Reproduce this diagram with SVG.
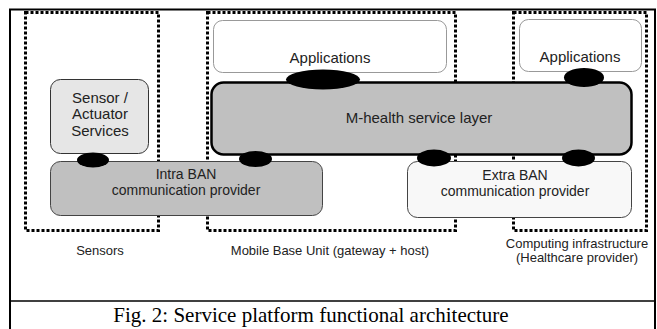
<svg xmlns="http://www.w3.org/2000/svg" width="657" height="329" viewBox="0 0 657 329">
<style>
.dot{fill:none;stroke:#000;stroke-width:3;stroke-dasharray:3,2}
.t{font-family:"Liberation Sans",Arial,sans-serif;fill:#222;text-anchor:middle}
.conn{fill:#000}
</style>
<rect x="0" y="0" width="657" height="329" fill="#fff"/>
<rect x="10" y="9.5" width="645" height="325" fill="none" stroke="#000" stroke-width="2"/>
<line x1="10" y1="301" x2="655" y2="301" stroke="#000" stroke-width="1.5"/>
<g id="groups">
<rect class="dot" x="25.5" y="12.5" width="133" height="218"/>
<rect class="dot" x="207.5" y="12.5" width="248" height="218"/>
<rect class="dot" x="513.5" y="12.5" width="133" height="218"/>
</g>
<g id="apps-mid"><rect x="213.5" y="20.5" width="233" height="52" rx="9" fill="#fff" stroke="#999"/><text class="t" x="330" y="63" font-size="15">Applications</text></g>
<g id="apps-right"><rect x="519.5" y="19.5" width="122" height="52" rx="9" fill="#fff" stroke="#999"/><text class="t" x="580" y="62" font-size="15">Applications</text></g>
<g id="sensor-services"><rect x="50.5" y="79.5" width="98" height="74" rx="10" fill="#e6e6e6" stroke="#333"/><text class="t" x="100" y="103" font-size="15">Sensor /</text><text class="t" x="100" y="119" font-size="15">Actuator</text><text class="t" x="100" y="136" font-size="15">Services</text></g>
<g id="mhealth"><rect x="211.5" y="82.5" width="420" height="72" rx="12" fill="#c0c0c0" stroke="#000" stroke-width="2.5"/><text class="t" x="419" y="123" font-size="15">M-health service layer</text></g>
<g id="intra-ban"><rect x="50.5" y="161.5" width="272" height="54" rx="10" fill="#c0c0c0" stroke="#444"/><text class="t" x="186" y="179" font-size="14">Intra BAN</text><text class="t" x="186" y="195" font-size="14">communication provider</text></g>
<g id="extra-ban"><rect x="407.5" y="161.5" width="224" height="56" rx="10" fill="#f8f8f8" stroke="#444"/><text class="t" x="515" y="180" font-size="14">Extra BAN</text><text class="t" x="515" y="196" font-size="14">communication provider</text></g>
<g id="connectors">
<ellipse class="conn" cx="93" cy="160" rx="16" ry="7.5"/>
<ellipse class="conn" cx="255.5" cy="159" rx="16.5" ry="8"/>
<ellipse class="conn" cx="434" cy="158" rx="17" ry="8.5"/>
<ellipse class="conn" cx="578.5" cy="158" rx="16.5" ry="8.5"/>
<ellipse class="conn" cx="323" cy="79.5" rx="37" ry="10"/>
<ellipse class="conn" cx="584" cy="77.5" rx="20" ry="9.5"/>
</g>
<g id="labels">
<text class="t" x="100" y="255" font-size="13">Sensors</text>
<text class="t" x="330" y="255" font-size="13">Mobile Base Unit (gateway + host)</text>
<text class="t" x="577" y="248" font-size="13">Computing infrastructure</text>
<text class="t" x="577" y="262" font-size="13">(Healthcare provider)</text>
</g>
<text x="311" y="322" font-family="'Liberation Serif','Times New Roman',serif" font-size="21" text-anchor="middle" fill="#000">Fig. 2: Service platform functional architecture</text>
</svg>
